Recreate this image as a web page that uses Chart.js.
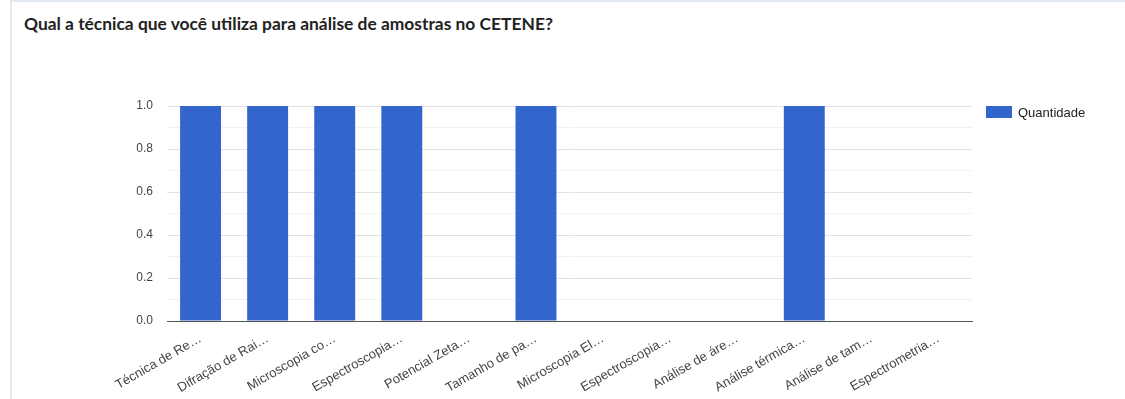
<!DOCTYPE html>
<html>
<head>
<meta charset="utf-8">
<script src="https://cdn.jsdelivr.net/npm/chart.js@4.4.1/dist/chart.umd.min.js"></script>
<style>
  html, body { margin: 0; padding: 0; background: #fff; }
  body { width: 1125px; height: 399px; overflow: hidden; position: relative; }
  .card {
    position: absolute; left: 10px; top: 0; right: -10px; bottom: -10px;
    border-left: 2px solid #e1e8ef; border-top: 2px solid #e1e8ef;
  }
  .title {
    position: absolute; left: 24px; top: 13px;
    font-family: Lato, "Open Sans", sans-serif; font-weight: 700; font-size: 17.4px; color: #222;
  }
  .chart-box { position: absolute; left: 12px; top: 40px; width: 1113px; height: 359px; }
</style>
</head>
<body>
<div class="card"></div>
<div class="title">Qual a técnica que você utiliza para análise de amostras no CETENE?</div>
<div class="chart-box"><canvas id="chart"></canvas></div>
<script>
// Categories (as shown, truncated by the original chart)
const techniques = [
    'Técnica de Re…', 'Difração de Rai…', 'Microscopia co…', 'Espectroscopia…',
    'Potencial Zeta…', 'Tamanho de pa…', 'Microscopia El…', 'Espectroscopia…',
    'Análise de áre…', 'Análise térmica…', 'Análise de tam…', 'Espectrometria…'
];

// Number of answers per technique
const quantidade = [1, 1, 1, 1, 0, 1, 0, 0, 0, 1, 0, 0];

// Y axis range / step
const yMin = 0;
const yMax = 1;
const yStep = 0.1;

const fontFamily = 'Arial, "Liberation Sans", sans-serif';
const barColor = '#3366cc';

// Simple legend drawn to the right of the plot area (like the original)
const sideLegend = {
    id: 'sideLegend',
    afterDraw(chart) {
        const { ctx, chartArea } = chart;
        const ds = chart.data.datasets[0];
        const x = chartArea.right + 14;
        const y = chartArea.top;
        ctx.save();
        ctx.fillStyle = ds.backgroundColor;
        ctx.fillRect(x, y, 26, 12);
        ctx.fillStyle = '#222';
        ctx.font = '13px ' + fontFamily;
        ctx.textBaseline = 'middle';
        ctx.fillText(ds.label, x + 32, y + 7);
        ctx.restore();
    }
};

const config = {
    type: 'bar',
    data: {
        labels: techniques,
        datasets: [{
            label: 'Quantidade',
            data: quantidade,
            backgroundColor: barColor,
            borderWidth: 0,
            barPercentage: 0.61,
            categoryPercentage: 1
        }]
    },
    options: {
        responsive: true,
        maintainAspectRatio: false,
        animation: false,
        layout: {
            padding: { top: 66, right: 153, bottom: 0, left: 95 }
        },
        plugins: {
            tooltip: { enabled: false },
            legend: { display: false }
        },
        scales: {
            x: {
                afterFit: (scale) => { scale.height = 78; },
                grid: { display: false },
                border: { display: true, color: '#555', width: 1 },
                ticks: {
                    color: '#444',
                    font: { family: fontFamily, size: 13 },
                    maxRotation: 30,
                    minRotation: 30,
                    autoSkip: false,
                    padding: 2
                }
            },
            y: {
                min: yMin,
                max: yMax,
                afterFit: (scale) => { scale.width = 60; },
                border: { display: false },
                grid: {
                    drawTicks: false,
                    color: (ctx) => {
                        const v = Math.round(ctx.tick.value * 10);
                        if (v === 0) return '#555';
                        return v % 2 === 0 ? '#e2e2e2' : '#f2f2f2';
                    }
                },
                ticks: {
                    stepSize: yStep,
                    autoSkip: false,
                    padding: 14,
                    color: '#444',
                    font: { family: fontFamily, size: 12 },
                    callback: (value) => {
                        const v = Math.round(value * 10);
                        return v % 2 === 0 ? (v / 10).toFixed(1) : '';
                    }
                }
            }
        }
    },
    plugins: [sideLegend]
};

new Chart(document.getElementById('chart'), config);
</script>
</body>
</html>
